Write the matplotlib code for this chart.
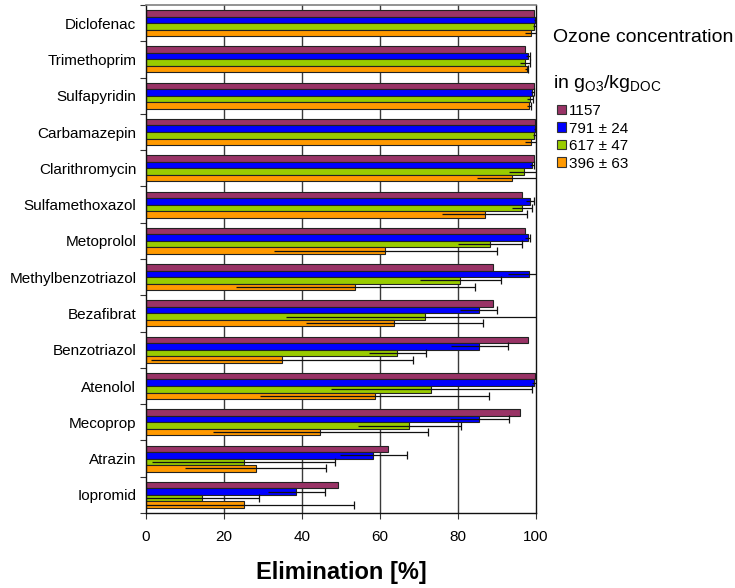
import matplotlib
matplotlib.use("Agg")
import matplotlib.pyplot as plt
from matplotlib.patches import Patch
import numpy as np

plt.rcParams['font.family'] = ['Liberation Sans', 'DejaVu Sans']
plt.rcParams['mathtext.fontset'] = 'custom'
plt.rcParams['mathtext.rm'] = 'Liberation Sans'

categories = ["Diclofenac", "Trimethoprim", "Sulfapyridin", "Carbamazepin",
              "Clarithromycin", "Sulfamethoxazol", "Metoprolol",
              "Methylbenzotriazol", "Bezafibrat", "Benzotriazol", "Atenolol",
              "Mecoprop", "Atrazin", "Iopromid"]

series_labels = ["1157", "791 \u00b1 24", "617 \u00b1 47", "396 \u00b1 63"]

v1157 = [99.6, 97.3, 99.4, 99.8, 99.4, 96.4, 97.3, 88.9, 88.9, 97.9, 99.7, 96.0, 62.1, 49.3]
e1157 = [0, 0, 0, 0, 0, 0, 0, 0, 0, 0, 0, 0, 0, 0]

v791 = [99.7, 97.9, 99.1, 99.7, 99.0, 98.5, 97.9, 98.1, 85.3, 85.5, 99.5, 85.5, 58.3, 38.5]
e791 = [0.3, 0.5, 0.3, 0.3, 0.5, 1.0, 0.6, 5.2, 4.8, 7.2, 0.5, 7.5, 8.6, 7.3]

v617 = [99.6, 97.1, 98.5, 99.6, 97.0, 96.4, 88.2, 80.6, 71.5, 64.4, 73.2, 67.5, 25.0, 14.3]
e617 = [0.3, 1.3, 0.8, 0.3, 4.0, 2.6, 8.2, 10.3, 35.7, 7.3, 25.7, 13.2, 23.5, 14.8]

v396 = [98.7, 97.6, 98.2, 98.7, 93.9, 86.8, 61.4, 53.7, 63.7, 34.9, 58.6, 44.7, 28.1, 25.0]
e396 = [1.5, 0.3, 0.5, 1.5, 9.0, 10.8, 28.5, 30.6, 22.7, 33.5, 29.4, 27.6, 18.1, 28.4]

xticks = [0, 20, 40, 60, 80, 100]

colors = ["#993366", "#0000FF", "#99CC00", "#FF9900"]
values = [v1157, v791, v617, v396]
errors = [e1157, e791, e617, e396]

W, H = 735, 588
fig = plt.figure(figsize=(W / 100, H / 100), dpi=100)
ax = fig.add_axes([146 / W, 1 - 513 / H, (536 - 146) / W, (513 - 5) / H])

y = np.arange(len(categories))
bh = 0.18
for k, (vals, errs, c) in enumerate(zip(values, errors, colors)):
    yy = y + (k - 1.5) * bh
    vals = np.array(vals)
    errs = np.array(errs)
    ax.barh(yy, vals, height=bh, color=c, edgecolor="#222222", linewidth=0.8, zorder=2)
    m = errs > 0
    if m.any():
        ax.hlines(yy[m], vals[m] - errs[m], vals[m] + errs[m], color="#111111",
                  linewidth=0.9, zorder=3)
        ax.plot(vals[m] + errs[m], yy[m], linestyle="none", marker="|",
                markersize=6, markeredgewidth=0.9, color="#111111", zorder=3)

ax.set_xlim(0, 100)
ax.set_ylim(len(categories) - 0.5, -0.5)

for gx in xticks[1:-1]:
    ax.axvline(gx, color="#3a3a3a", linewidth=1.0, zorder=0)

ax.set_xticks(xticks)
ax.set_xticklabels([str(t) for t in xticks], fontsize=11)
ax.tick_params(axis="x", direction="out", length=4, width=0.8, pad=8, color="#333333")

ax.set_yticks(y)
ax.set_yticklabels(categories, fontsize=11)
ax.set_yticks(np.arange(len(categories) + 1) - 0.5, minor=True)
ax.tick_params(axis="y", which="major", length=0, pad=7)
ax.tick_params(axis="y", which="minor", direction="out", length=4, width=0.8, color="#333333")

for s in ["left", "right", "bottom"]:
    ax.spines[s].set_color("#111111")
    ax.spines[s].set_linewidth(1.0)
ax.spines["top"].set_color("#808080")
ax.spines["top"].set_linewidth(1.2)

fig.text(341 / W, 1 - 572 / H, "Elimination [%]", fontsize=17, fontweight="bold",
         ha="center", va="center")

fig.text(553 / W, 1 - 38 / H, "Ozone concentration", fontsize=14, ha="left", va="center")
fig.text(553 / W, 1 - 83 / H, r"in g$_{\mathregular{O3}}$/kg$_{\mathregular{DOC}}$",
         fontsize=14, ha="left", va="center")

handles = [Patch(facecolor=c, edgecolor="#333333", linewidth=0.8) for c in colors]
fig.legend(handles, series_labels, loc="upper left",
           bbox_to_anchor=(557 / W, 1 - 104 / H), frameon=False, fontsize=11,
           handlelength=0.6, handleheight=0.6, handletextpad=0.2,
           labelspacing=0.23, borderaxespad=0, borderpad=0)

fig.savefig("out.png", dpi=100)
